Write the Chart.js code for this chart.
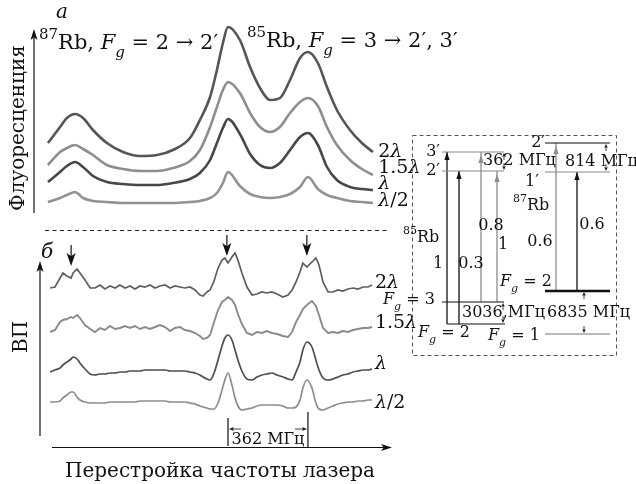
<!DOCTYPE html>
<html>
<head>
<meta charset="utf-8">
<script src="https://cdn.jsdelivr.net/npm/chart.js@4.4.0/dist/chart.umd.min.js"></script>
<style>
  html, body { margin: 0; padding: 0; background: #fff; }
  #wrap { position: relative; width: 636px; height: 484px; }
  canvas { position: absolute; left: 0; top: 0; }
</style>
</head>
<body>
<div id="wrap">
  <canvas id="chartA" width="636" height="484"></canvas>
  <canvas id="chartB" width="636" height="484"></canvas>
  <canvas id="chartC" width="636" height="484"></canvas>
</div>
<script>
const SERIF = '"DejaVu Serif", serif';
const INK = "#111";

// detuning in MHz, 0 = 85Rb Fg=3 -> 2'
// panel a: fluorescence, arb. units
const detuningA = [-815, -760, -729, -692, -656, -611, -548, -475, -398, -321, -249, -172, -127, -81, -50, -23, 0, 54, 100, 145, 190, 235, 281, 326, 362, 407, 448, 493, 552, 606, 656];
const fluo2 = [72, 88, 97, 101, 97, 85, 72, 63, 59, 60, 65, 77, 95, 118, 145, 172, 188, 175, 148, 127, 115, 117, 135, 157, 163, 152, 128, 105, 85, 72, 63];
const fluo15 = [50, 63, 67, 70, 66, 60, 50, 46, 44, 44, 47, 54, 65, 88, 108, 125, 133, 122, 102, 88, 83, 88, 102, 113, 117, 109, 88, 70, 55, 46, 40];
const fluo1 = [33, 43, 49, 53, 48, 39, 33, 31, 30, 30, 32, 36, 42, 55, 72, 87, 96, 81, 61, 50, 47, 52, 65, 78, 82, 70, 48, 35, 28, 26, 25];
const fluo05 = [13, 17, 20, 23, 17, 14, 13, 12, 12, 12, 12, 13, 14, 17, 22, 32, 43, 29, 21, 18, 17, 18, 21, 28, 38, 26, 20, 17, 14, 13, 12];

// panel б: ВП signal, arb. units
const detuningB = [-805, -783, -760, -747, -729, -710, -701, -683, -670, -647, -624, -602, -579, -557, -534, -511, -489, -466, -443, -421, -398, -376, -353, -330, -308, -285, -262, -240, -217, -195, -172, -149, -127, -113, -95, -81, -63, -45, -27, -14, 0, 18, 32, 45, 63, 86, 109, 131, 154, 176, 199, 222, 249, 272, 290, 308, 326, 339, 357, 380, 398, 412, 430, 453, 475, 498, 520, 543, 566, 588, 611, 634, 652];
const vp2 = [152, 153, 162, 167, 164, 162, 167, 171, 167, 160, 152, 152, 155, 151, 154, 152, 155, 152, 154, 151, 154, 153, 155, 152, 154, 155, 152, 154, 153, 152, 153, 150, 145, 144, 148, 150, 159, 172, 180, 182, 177, 183, 187, 180, 167, 153, 145, 146, 148, 147, 148, 146, 143, 145, 150, 158, 168, 177, 173, 178, 182, 175, 158, 148, 148, 150, 149, 151, 152, 151, 153, 153, 155];
const vp15 = [108, 110, 118, 120, 121, 123, 122, 125, 122, 115, 111, 108, 112, 110, 114, 111, 112, 114, 112, 114, 111, 113, 111, 113, 115, 113, 109, 112, 113, 110, 109, 107, 104, 101, 102, 105, 118, 130, 138, 140, 143, 140, 135, 126, 116, 107, 105, 108, 107, 109, 107, 106, 104, 103, 108, 118, 125, 131, 135, 139, 134, 125, 112, 107, 108, 107, 109, 108, 110, 111, 112, 112, 113];
const vp1 = [68, 70, 72, 75, 78, 81, 83, 81, 77, 71, 66, 65, 66, 66, 67, 67, 68, 68, 69, 69, 69, 70, 70, 70, 70, 70, 69, 69, 69, 69, 68, 67, 65, 63, 61, 60, 67, 80, 94, 102, 105, 100, 90, 80, 69, 61, 60, 63, 65, 66, 67, 65, 63, 61, 60, 68, 78, 90, 98, 93, 80, 70, 62, 60, 61, 63, 65, 66, 68, 69, 70, 70, 71];
const vp05 = [38, 38, 39, 42, 45, 48, 48, 43, 40, 38, 37, 37, 37, 37, 38, 38, 38, 38, 38, 38, 39, 39, 39, 39, 39, 39, 38, 38, 38, 38, 37, 36, 34, 33, 32, 31, 31, 37, 50, 60, 67, 55, 42, 34, 30, 31, 32, 34, 35, 35, 35, 35, 34, 32, 32, 33, 40, 52, 60, 52, 37, 31, 30, 32, 34, 36, 37, 38, 38, 39, 39, 40, 40];

const powerLabels = ["2", "1.5", "", "/2"];
const dipMarks = [-710, -5, 357];
const hfsSpacing = [0, 362];

// level diagram (schematic heights)
const levels85 = [31, 53, 184, 203];   // Fg=2, Fg=3, 2', 3'
const levels87 = [21, 64, 183, 212];   // Fg=1, Fg=2, 1', 2'
const transAtom = [85, 85, 85, 85, 87, 87];
const transLower = [0, 0, 1, 1, 1, 1];
const transUpper = [3, 2, 3, 2, 3, 2];
const transProb = ["1", "0.3", "0.8", "1", "0.6", "0.6"];

function arrow(ctx, x1, y1, x2, y2, len, half, lw) {
  len = len || 11; half = half || 3.5; lw = lw || 1.2;
  const a = Math.atan2(y2 - y1, x2 - x1);
  const c = Math.cos(a), s = Math.sin(a);
  ctx.lineWidth = lw;
  ctx.beginPath();
  ctx.moveTo(x1, y1);
  ctx.lineTo(x2 - c * len * 0.7, y2 - s * len * 0.7);
  ctx.stroke();
  ctx.beginPath();
  ctx.moveTo(x2, y2);
  ctx.lineTo(x2 - c * len + s * half, y2 - s * len - c * half);
  ctx.lineTo(x2 - c * len * 0.75, y2 - s * len * 0.75);
  ctx.lineTo(x2 - c * len - s * half, y2 - s * len + c * half);
  ctx.closePath();
  ctx.fill();
}

// parts: [text, kind], kind: "" roman, "i" italic, "sup", "sub"
function rich(ctx, x, y, parts, size, align) {
  const fontOf = (k) => (k === "i" || k === "sub" ? "italic " : "") +
    (k === "sup" || k === "sub" ? Math.round(size * 0.7) : size) + "px " + SERIF;
  let w = 0;
  parts.forEach((p) => { ctx.font = fontOf(p[1]); w += ctx.measureText(p[0]).width; });
  let cx = align === "center" ? x - w / 2 : align === "right" ? x - w : x;
  ctx.textAlign = "left";
  ctx.textBaseline = "middle";
  parts.forEach((p) => {
    ctx.font = fontOf(p[1]);
    const dy = p[1] === "sup" ? -size * 0.42 : p[1] === "sub" ? size * 0.42 : 0;
    ctx.fillText(p[0], cx, y + dy);
    cx += ctx.measureText(p[0]).width;
  });
}

function lambdaParts(i) {
  const pre = powerLabels[i];
  if (pre === "/2") return [["λ", "i"], ["/2", ""]];
  return pre ? [[pre, ""], ["λ", "i"]] : [["λ", "i"]];
}

function fgParts(n) {
  return [["F", "i"], ["g", "sub"], [" = " + n, ""]];
}

function lineSet(xs, ys, color, width, smooth) {
  return {
    data: xs.map((x, i) => ({ x: x, y: ys[i] })),
    borderColor: color,
    borderWidth: width,
    pointRadius: 0,
    tension: 0,
    cubicInterpolationMode: smooth ? "monotone" : "default",
    fill: false,
    clip: false,
  };
}

function baseOptions(pad, xr, yr) {
  return {
    responsive: false,
    animation: false,
    devicePixelRatio: 1,
    events: [],
    layout: { padding: pad },
    plugins: { legend: { display: false }, tooltip: { enabled: false } },
    scales: {
      x: { type: "linear", min: xr[0], max: xr[1], display: false },
      y: { type: "linear", min: yr[0], max: yr[1], display: false },
    },
  };
}

// ---------- panel a ----------
const labelYA = [63, 47, 31, 14];
const panelA = {
  id: "panelA",
  afterDraw(chart) {
    const { ctx, scales: { x, y } } = chart;
    ctx.save();
    ctx.fillStyle = INK;
    ctx.strokeStyle = INK;
    arrow(ctx, 34, 213, 34, 29);
    ctx.font = "italic 20px " + SERIF;
    ctx.textBaseline = "alphabetic";
    ctx.fillText("а", 56, 18);
    rich(ctx, 39, 44, [["87", "sup"], ["Rb", ""], [", ", ""]].concat(fgParts("2 → 2′")), 21, "left");
    rich(ctx, 247, 42, [["85", "sup"], ["Rb", ""], [", ", ""]].concat(fgParts("3 → 2′, 3′")), 21, "left");
    ctx.save();
    ctx.translate(19, 128);
    ctx.rotate(-Math.PI / 2);
    ctx.font = "20px " + SERIF;
    ctx.textAlign = "center";
    ctx.textBaseline = "middle";
    ctx.fillText("Флуоресценция", 0, 0);
    ctx.restore();
    labelYA.forEach((v, i) => {
      rich(ctx, x.getPixelForValue(680), y.getPixelForValue(v), lambdaParts(i), 19, "left");
    });
    ctx.restore();
  },
};

new Chart(document.getElementById("chartA"), {
  type: "line",
  data: {
    datasets: [
      lineSet(detuningA, fluo2, "#555555", 2.6, true),
      lineSet(detuningA, fluo15, "#8e8e8e", 2.6, true),
      lineSet(detuningA, fluo1, "#474747", 2.6, true),
      lineSet(detuningA, fluo05, "#929292", 2.6, true),
    ],
  },
  options: baseOptions({ left: 46.8, right: 262.2, top: 20, bottom: 269 }, [-820, 660], [0, 195]),
  plugins: [panelA],
});

// ---------- panel б ----------
const labelYB = [157, 117, 76, 37];
const panelB = {
  id: "panelB",
  afterDraw(chart) {
    const { ctx, scales: { x, y } } = chart;
    ctx.save();
    ctx.fillStyle = INK;
    ctx.strokeStyle = "#222";
    ctx.setLineDash([4, 3.5]);
    ctx.lineWidth = 1;
    ctx.beginPath();
    ctx.moveTo(45, 230.5);
    ctx.lineTo(390, 230.5);
    ctx.stroke();
    ctx.setLineDash([]);
    ctx.strokeStyle = INK;
    arrow(ctx, 40, 436, 40, 261);
    arrow(ctx, 52, 447.5, 392, 447.5);

    // arrows over the resonance dips
    dipMarks.forEach((f, i) => {
      const px = x.getPixelForValue(f);
      const top = i === 0 ? 245 : 235;
      arrow(ctx, px, top, px, top + 21, 13, 4.5, 1.2);
    });

    // 362 MHz spacing
    const p0 = x.getPixelForValue(hfsSpacing[0]);
    const p1 = x.getPixelForValue(hfsSpacing[1]);
    ctx.lineWidth = 1.2;
    ctx.beginPath();
    ctx.moveTo(p0, 418); ctx.lineTo(p0, 446);
    ctx.moveTo(p1, 412); ctx.lineTo(p1, 447);
    ctx.stroke();
    arrow(ctx, p0 + 13, 429, p0 + 1, 429, 5, 2, 0.8);
    arrow(ctx, p1 - 13, 429, p1 - 1, 429, 5, 2, 0.8);
    rich(ctx, (p0 + p1) / 2, 440, [["362 МГц", ""]], 16, "center");

    ctx.font = "italic 20px " + SERIF;
    ctx.textBaseline = "alphabetic";
    ctx.textAlign = "left";
    ctx.fillText("б", 41, 258);
    ctx.font = "20px " + SERIF;
    ctx.textAlign = "center";
    ctx.fillText("Перестройка частоты лазера", 220, 477);
    ctx.save();
    ctx.translate(22, 337);
    ctx.rotate(-Math.PI / 2);
    ctx.textBaseline = "middle";
    ctx.fillText("ВП", 0, 0);
    ctx.restore();
    labelYB.forEach((v, i) => {
      rich(ctx, x.getPixelForValue(665), y.getPixelForValue(v), lambdaParts(i), 19, "left");
    });
    ctx.restore();
  },
};

new Chart(document.getElementById("chartB"), {
  type: "line",
  data: {
    datasets: [
      lineSet(detuningB, vp2, "#5e5e5e", 1.7, false),
      lineSet(detuningB, vp15, "#8a8a8a", 1.9, false),
      lineSet(detuningB, vp1, "#4e4e4e", 1.7, true),
      lineSet(detuningB, vp05, "#8c8c8c", 1.7, true),
    ],
  },
  options: baseOptions({ left: 46.8, right: 262.2, top: 230, bottom: 44 }, [-820, 660], [0, 210]),
  plugins: [panelB],
});

// ---------- level diagram ----------
const span85 = [[35, 93], [30, 92], [30, 92], [30, 92]];
const span87 = [[133, 198], [133, 198], [133, 198], [133, 198]];
const levelColor85 = ["#111", "#111", "#8a8a8a", "#8a8a8a"];
const levelColor87 = ["#777", "#111", "#8a8a8a", "#111"];
const transX = [35, 47, 69, 85, 144, 165];
const transColor = ["#111", "#111", "#8c8c8c", "#8c8c8c", "#8c8c8c", "#111"];

const levelSets = [];
levels85.forEach((lv, i) => {
  levelSets.push(lineSet(span85[i], [lv, lv], levelColor85[i], 1.2, false));
});
levels87.forEach((lv, i) => {
  levelSets.push(lineSet(span87[i], [lv, lv], levelColor87[i], i === 1 ? 2.4 : 1.2, false));
});
const transSets = transAtom.map((atom, i) => {
  const lv = atom === 85 ? levels85 : levels87;
  return lineSet([transX[i], transX[i]], [lv[transLower[i]], lv[transUpper[i]]], transColor[i], 1.3, false);
});

const probPos = [[26, 91], [59, 91], [79, 129], [91, 110], [128, 113], [180, 130]];
const spacingMarks = [
  { x: 92, lo: levels85[2], hi: levels85[3] },
  { x: 194, lo: levels87[2], hi: levels87[3] },
  { x: 91, lo: levels85[0], hi: levels85[1] },
  { x: 172, lo: levels87[0], hi: levels87[1] },
];
const diagramText = [
  { x: 28, y: levels85[3], parts: [["3′", ""]], align: "right" },
  { x: 28, y: levels85[2], parts: [["2′", ""]], align: "right" },
  { x: 71, y: 194, parts: [["362 МГц", ""]], align: "left" },
  { x: 153, y: 193, parts: [["814 МГц", ""]], align: "left" },
  { x: 133, y: levels87[3], parts: [["2′", ""]], align: "right" },
  { x: 120, y: 173, parts: [["1′", ""]], align: "center" },
  { x: 101, y: 149, parts: [["87", "sup"], ["Rb", ""]], align: "left" },
  { x: -9, y: 117, parts: [["85", "sup"], ["Rb", ""]], align: "left" },
  { x: 88, y: 73, parts: fgParts("2"), align: "left" },
  { x: 135, y: 42, parts: [["6835 МГц", ""]], align: "left" },
  { x: 50, y: 42, parts: [["3036,МГц", ""]], align: "left" },
  { x: 76, y: 19, parts: fgParts("1"), align: "left" },
  { x: 6, y: 22, parts: fgParts("2"), align: "left" },
  { x: -29, y: 55, parts: fgParts("3"), align: "left" },
];

const diagram = {
  id: "diagram",
  afterDraw(chart) {
    const { ctx, chartArea: ca, scales: { x, y } } = chart;
    ctx.save();
    ctx.strokeStyle = "#555";
    ctx.lineWidth = 1;
    ctx.setLineDash([4, 3]);
    ctx.strokeRect(ca.left + 0.5, ca.top + 0.5, ca.right - ca.left, ca.bottom - ca.top);
    ctx.setLineDash([]);

    transAtom.forEach((atom, i) => {
      const lv = atom === 85 ? levels85 : levels87;
      const px = x.getPixelForValue(transX[i]);
      const tip = y.getPixelForValue(lv[transUpper[i]]) + (transColor[i] === "#111" ? 0 : 3);
      ctx.fillStyle = transColor[i];
      ctx.beginPath();
      ctx.moveTo(px, tip);
      ctx.lineTo(px - 2.6, tip + 8);
      ctx.lineTo(px + 2.6, tip + 8);
      ctx.closePath();
      ctx.fill();
    });

    ctx.strokeStyle = INK;
    ctx.fillStyle = INK;
    spacingMarks.forEach((m) => {
      const px = x.getPixelForValue(m.x);
      const yl = y.getPixelForValue(m.lo);
      const yh = y.getPixelForValue(m.hi);
      arrow(ctx, px, yh + 8, px, yh + 1, 4, 1.8, 0.8);
      arrow(ctx, px, yl - 8, px, yl - 1, 4, 1.8, 0.8);
    });

    transProb.forEach((t, i) => {
      rich(ctx, x.getPixelForValue(probPos[i][0]), y.getPixelForValue(probPos[i][1]), [[t, ""]], 16, "center");
    });
    diagramText.forEach((d) => {
      rich(ctx, x.getPixelForValue(d.x), y.getPixelForValue(d.y), d.parts, 16, d.align);
    });
    ctx.restore();
  },
};

new Chart(document.getElementById("chartC"), {
  type: "line",
  data: { datasets: levelSets.concat(transSets) },
  options: baseOptions({ left: 412, right: 20, top: 135, bottom: 129 }, [0, 204], [0, 220]),
  plugins: [diagram],
});
</script>
</body>
</html>
